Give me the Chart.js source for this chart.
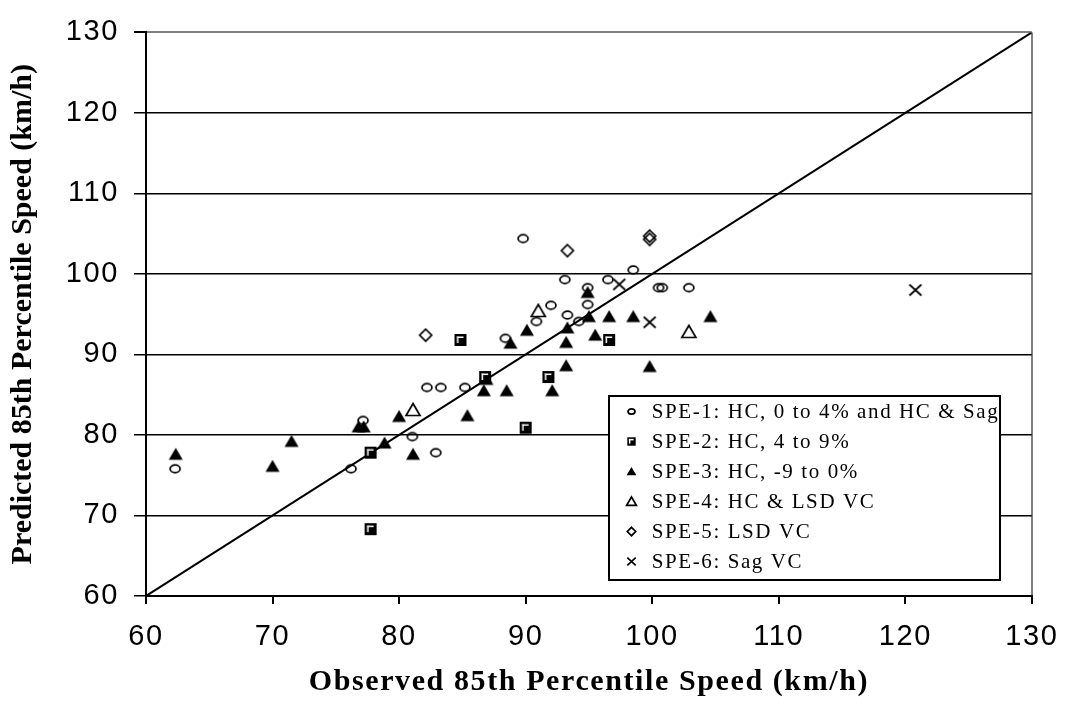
<!DOCTYPE html>
<html>
<head>
<meta charset="utf-8">
<script src="https://cdn.jsdelivr.net/npm/chart.js@4.4.1/dist/chart.umd.min.js"></script>
<style>
  html, body { margin: 0; padding: 0; background: #fff; }
  #wrap { width: 1072px; height: 705px; }
</style>
</head>
<body>
<div id="wrap"><canvas id="c" width="1072" height="705"></canvas></div>
<script>
// ---------------- DATA ----------------
const seriesNames = [
  'SPE-1: HC, 0 to 4% and HC & Sag',
  'SPE-2: HC, 4 to 9%',
  'SPE-3: HC, -9 to 0%',
  'SPE-4: HC & LSD VC',
  'SPE-5: LSD VC',
  'SPE-6: Sag VC'
];
const spe1X = [62.3, 76.2, 77.15, 81.05, 82.9, 82.2, 83.3, 85.2, 88.4, 89.8, 90.85, 92.0, 93.1, 93.3, 94.2, 94.9, 94.9, 96.5, 98.5, 100.5, 100.8, 102.9];
const spe1Y = [75.8, 75.8, 81.8, 79.8, 77.8, 85.9, 85.9, 85.9, 92.0, 104.4, 94.1, 96.1, 99.3, 94.9, 94.1, 98.3, 96.2, 99.3, 100.5, 98.3, 98.3, 98.3];
const spe2X = [77.75, 77.75, 84.85, 86.8, 90.0, 91.8, 96.6];
const spe2Y = [77.8, 68.3, 91.8, 87.2, 80.9, 87.2, 91.8];
const spe3X = [62.35, 70.0, 71.5, 76.8, 77.2, 78.85, 80.0, 81.1, 85.4, 86.7, 86.9, 88.5, 88.8, 90.1, 92.1, 93.2, 93.2, 93.3, 94.9, 95.0, 95.5, 96.6, 98.5, 99.8, 104.6];
const spe3Y = [77.6, 76.1, 79.2, 81.0, 81.0, 79.0, 82.3, 77.6, 82.4, 85.5, 86.9, 85.5, 91.4, 93.0, 85.5, 91.5, 88.6, 93.3, 97.7, 94.7, 92.4, 94.7, 94.7, 88.5, 94.7];
const spe4X = [81.1, 91.0, 102.9];
const spe4Y = [83.1, 95.4, 92.8];
const spe5X = [82.1, 93.3, 99.8, 99.8];
const spe5Y = [92.4, 102.9, 104.3, 104.7];
const spe6X = [97.4, 99.8, 120.8];
const spe6Y = [98.7, 94.0, 98.0];
const diagX = [60, 130];
const diagY = [60, 130];
const xTicks = [60, 70, 80, 90, 100, 110, 120, 130];
const yTicks = [60, 70, 80, 90, 100, 110, 120, 130];
const xTitle = 'Observed 85th Percentile Speed (km/h)';
const yTitle = 'Predicted 85th Percentile Speed (km/h)';

// ---------------- MARKERS ----------------
function makeMarker(type, s) {
  const W = Math.ceil(18 * s) + 2, H = W;
  const c = document.createElement('canvas');
  c.width = W; c.height = H;
  const g = c.getContext('2d');
  const cx = W / 2, cy = H / 2;
  g.strokeStyle = '#000'; g.fillStyle = '#000'; g.lineWidth = 1.7;
  g.beginPath();
  switch (type) {
    case 'circle':
      g.ellipse(cx, cy, 5 * s, 3.8 * s, 0, 0, Math.PI * 2); g.stroke(); break;
    case 'square': {
      const a = 6 * s;
      g.fillRect(cx - a, cy - a, 2 * a, 2 * a);
      g.fillStyle = '#fff';
      const i = a * 0.5;
      g.fillRect(cx - i - 0.5, cy - i - 0.5, 2 * i + 0.5, 1.5);
      g.fillRect(cx - i - 0.5, cy - i - 0.5, 1.5, 2 * i + 0.5);
      break;
    }
    case 'triangle':
      g.moveTo(cx, cy - 6.5 * s); g.lineTo(cx + 7 * s, cy + 5.5 * s); g.lineTo(cx - 7 * s, cy + 5.5 * s);
      g.closePath(); g.fill(); break;
    case 'otriangle':
      g.moveTo(cx, cy - 6.5 * s); g.lineTo(cx + 7 * s, cy + 5.5 * s); g.lineTo(cx - 7 * s, cy + 5.5 * s);
      g.closePath(); g.stroke(); break;
    case 'diamond':
      g.moveTo(cx, cy - 6 * s); g.lineTo(cx + 6 * s, cy); g.lineTo(cx, cy + 6 * s); g.lineTo(cx - 6 * s, cy);
      g.closePath(); g.stroke(); break;
    case 'cross':
      g.moveTo(cx - 6 * s, cy - 5.5 * s); g.lineTo(cx + 6 * s, cy + 5.5 * s);
      g.moveTo(cx + 6 * s, cy - 5.5 * s); g.lineTo(cx - 6 * s, cy + 5.5 * s);
      g.stroke(); break;
  }
  return c;
}
const markerTypes = ['circle', 'square', 'triangle', 'otriangle', 'diamond', 'cross'];
const plotMarkers = markerTypes.map(t => makeMarker(t, 1));
const legendMarkers = markerTypes.map(t => makeMarker(t, 0.7));

function pts(xs, ys) { return xs.map((x, i) => ({ x: x, y: ys[i] })); }
const seriesX = [spe1X, spe2X, spe3X, spe4X, spe5X, spe6X];
const seriesY = [spe1Y, spe2Y, spe3Y, spe4Y, spe5Y, spe6Y];

const datasets = seriesNames.map((name, k) => ({
  label: name,
  data: pts(seriesX[k], seriesY[k]),
  pointStyle: plotMarkers[k],
  pointRadius: 6,
  pointHoverRadius: 6,
  showLine: false
}));
datasets.push({
  label: 'diagonal',
  data: pts(diagX, diagY),
  showLine: true,
  borderColor: '#000',
  borderWidth: 2,
  pointRadius: 0,
  fill: false
});

// ---------------- PLUGINS ----------------
const spacingPlugin = {
  id: 'spacing',
  beforeDraw(chart) {
    chart.ctx.letterSpacing = '1.6px';
    const ys = chart.scales.y;
    if (ys && !ys._patchedTitle) {
      const orig = ys.drawTitle.bind(ys);
      ys.drawTitle = function () {
        const c = this.ctx; const prev = c.letterSpacing;
        c.letterSpacing = '0px'; orig(); c.letterSpacing = prev;
      };
      ys._patchedTitle = true;
    }
  }
};

const legendPlugin = {
  id: 'boxLegend',
  afterDatasetsDraw(chart) {
    const ctx = chart.ctx;
    ctx.save();
    const bx = 609, by = 396, bw = 391, bh = 184;
    ctx.fillStyle = '#fff';
    ctx.fillRect(bx, by, bw, bh);
    ctx.strokeStyle = '#000';
    ctx.lineWidth = 2;
    ctx.strokeRect(bx, by, bw, bh);
    ctx.font = '21px "Liberation Serif", "Times New Roman", serif';
    ctx.letterSpacing = '1.6px';
    ctx.fillStyle = '#000';
    ctx.textAlign = 'left';
    ctx.textBaseline = 'alphabetic';
    seriesNames.forEach((name, i) => {
      const base = 418.3 + i * 30;
      const m = legendMarkers[i];
      ctx.drawImage(m, Math.round(631.7 - m.width / 2), Math.round(base - 6.7 - m.height / 2));
      ctx.fillText(name, 651.7, base);
    });
    ctx.restore();
  }
};

// ---------------- CHART ----------------
Chart.defaults.font.family = "'Liberation Sans', Arial, sans-serif";
Chart.defaults.color = '#000';

new Chart(document.getElementById('c'), {
  type: 'scatter',
  data: { datasets: datasets },
  options: {
    responsive: false,
    animation: false,
    devicePixelRatio: 1,
    layout: { padding: { left: 0, top: 22, right: 32, bottom: 0 } },
    plugins: {
      legend: { display: false },
      tooltip: { enabled: false }
    },
    scales: {
      x: {
        type: 'linear',
        min: xTicks[0], max: xTicks[xTicks.length - 1],
        afterBuildTicks: s => { s.ticks = xTicks.map(v => ({ value: v })); },
        afterFit: s => { s.height = 109; },
        ticks: { font: { size: 29 }, color: '#000', padding: 16, maxRotation: 0 },
        grid: {
          color: c => (c.tick && c.tick.value === 130) ? '#808080' : 'rgba(0,0,0,0)',
          tickColor: '#000',
          tickLength: 8,
          lineWidth: 2
        },
        border: { display: true, color: '#000', width: 2 },
        title: {
          display: true, text: xTitle, color: '#000',
          font: { family: "'Liberation Serif', 'Times New Roman', serif", size: 30, weight: 'bold' },
          padding: { top: 0, bottom: 5 }
        }
      },
      y: {
        type: 'linear',
        min: yTicks[0], max: yTicks[yTicks.length - 1],
        afterBuildTicks: s => { s.ticks = yTicks.map(v => ({ value: v })); },
        afterFit: s => { s.width = 146; },
        ticks: { font: { size: 29 }, color: '#000', padding: 15 },
        grid: {
          color: c => (c.tick && c.tick.value === 130) ? '#808080' : '#000',
          lineWidth: c => (c.tick && c.tick.value === 130) ? 2 : 1.5,
          tickColor: '#000',
          tickLength: 12
        },
        border: { display: true, color: '#000', width: 2 },
        title: {
          display: true, text: yTitle, color: '#000',
          font: { family: "'Liberation Serif', 'Times New Roman', serif", size: 30, weight: 'bold' },
          padding: { top: 5, bottom: 0 }
        }
      }
    }
  },
  plugins: [spacingPlugin, legendPlugin]
});
</script>
</body>
</html>
